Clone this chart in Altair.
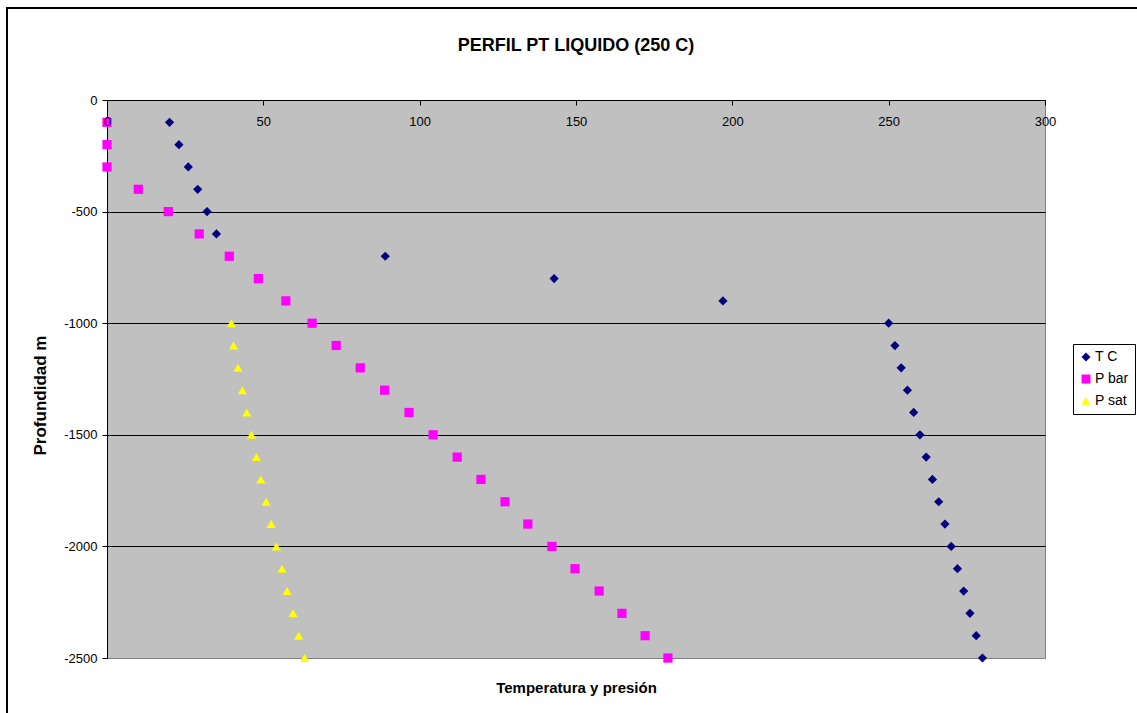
import altair as alt
import pandas as pd

# Depth profile (m) and the three measured series
depth = [-100, -200, -300, -400, -500, -600, -700, -800, -900, -1000,
         -1100, -1200, -1300, -1400, -1500, -1600, -1700, -1800, -1900, -2000,
         -2100, -2200, -2300, -2400, -2500]
t_c = [20, 23, 26, 29, 32, 35, 89, 143, 197, 250,
       252, 254, 256, 258, 260, 262, 264, 266, 268, 270,
       272, 274, 276, 278, 280]
p_bar = [0, 0, 0, 10, 19.6, 29.5, 39.1, 48.4, 57.2, 65.6,
         73.3, 81.0, 88.8, 96.6, 104.3, 112.0, 119.6, 127.3, 134.6, 142.3,
         149.7, 157.4, 164.7, 172.1, 179.4]
p_sat = [None, None, None, None, None, None, None, None, None, 39.8,
         40.5, 41.9, 43.3, 44.7, 46.2, 47.8, 49.2, 50.9, 52.5, 54.2,
         56.0, 57.6, 59.5, 61.3, 63.2]

series_names = ["T C", "P bar", "P sat"]
series_colors = ["#000080", "#FF00FF", "#FFFF00"]
series_shapes = ["diamond", "square", "triangle-up"]

x_ticks = [0, 50, 100, 150, 200, 250, 300]
y_ticks = [0, -500, -1000, -1500, -2000, -2500]

chart_title = "PERFIL PT LIQUIDO (250 C)"

rows = []
for name, values in zip(series_names, [t_c, p_bar, p_sat]):
    for d, v in zip(depth, values):
        if v is not None:
            rows.append({"serie": name, "valor": v, "prof": d})
df = pd.DataFrame(rows)

W, H = 938, 558
FONT = "Liberation Sans"

points = alt.Chart(df).mark_point(filled=True, size=85, opacity=1, strokeWidth=0).encode(
    x=alt.X(
        "valor:Q",
        scale=alt.Scale(domain=[0, 300], nice=False, zero=False),
        axis=alt.Axis(
            orient="bottom",
            offset=-H,
            values=x_ticks,
            grid=False,
            domainColor="#000000",
            tickColor="#000000",
            tickSize=5,
            labelFlush=False,
            labelPadding=10,
            labelFontSize=13,
            labelColor="#000000",
            labelFont=FONT,
            title="Temperatura y presión",
            titleFont=FONT,
            titleFontSize=15,
            titleFontWeight="bold",
            titleColor="#000000",
            titleBaseline="middle",
            titleY=587,
            zindex=1,
        ),
    ),
    y=alt.Y(
        "prof:Q",
        scale=alt.Scale(domain=[-2500, 0], nice=False, zero=False),
        axis=alt.Axis(
            values=y_ticks,
            labelExpr="'' + datum.value",
            grid=True,
            gridColor={"condition": {"test": "datum.value <= -2500", "value": "#808080"},
                       "value": "#000000"},
            gridOpacity=1,
            gridWidth=1,
            domainColor="#000000",
            tickColor="#000000",
            tickSize=5,
            labelFlush=False,
            labelPadding=5,
            labelFontSize=13,
            labelColor="#000000",
            labelFont=FONT,
            title="Profundidad m",
            titleFont=FONT,
            titleFontSize=17,
            titleFontWeight="bold",
            titleColor="#000000",
            titleX=-67,
            titleY=H / 2 + 16,
            titleAngle=270,
            titleBaseline="middle",
            titleAlign="center",
        ),
    ),
    color=alt.Color(
        "serie:N",
        scale=alt.Scale(domain=series_names, range=series_colors),
        legend=alt.Legend(
            title=None,
            orient="none",
            legendX=966,
            legendY=244,
            fillColor="#FFFFFF",
            strokeColor="#000000",
            padding=6,
            rowPadding=8,
            labelFont=FONT,
            labelFontSize=14,
            labelColor="#000000",
            labelOffset=2,
            symbolSize=80,
            symbolStrokeWidth=0,
        ),
    ),
    shape=alt.Shape(
        "serie:N",
        scale=alt.Scale(domain=series_names, range=series_shapes),
        legend=None,
    ),
    order=alt.Order("serie_order:Q"),
).transform_calculate(
    serie_order="indexof(['T C','P bar','P sat'], datum.serie)"
)

# Outer chart frame
frame = alt.Chart(pd.DataFrame({"k": [0]})).mark_rect(
    fillOpacity=0, stroke="#000000", strokeWidth=2
).encode(
    x=alt.value(-100), x2=alt.value(1137 - 107 + 10),
    y=alt.value(-92), y2=alt.value(713 - 100 + 10),
)

# Chart heading, centred over the plot area
heading = alt.Chart(pd.DataFrame({"t": [chart_title]})).mark_text(
    font=FONT, fontSize=18, fontWeight="bold", color="#000000",
    align="center", baseline="middle",
).encode(
    text="t:N", x=alt.value(W / 2), y=alt.value(-54),
)

chart = alt.layer(frame, heading, points).properties(
    width=W,
    height=H,
    autosize=alt.AutoSizeParams(type="none"),
    padding={"left": 107, "top": 100, "right": 92, "bottom": 55},
    background="#FFFFFF",
).configure_view(
    fill="#C0C0C0", stroke="#808080", strokeWidth=1
)

chart.save("out.html", embed_options={"renderer": "svg", "actions": False})
